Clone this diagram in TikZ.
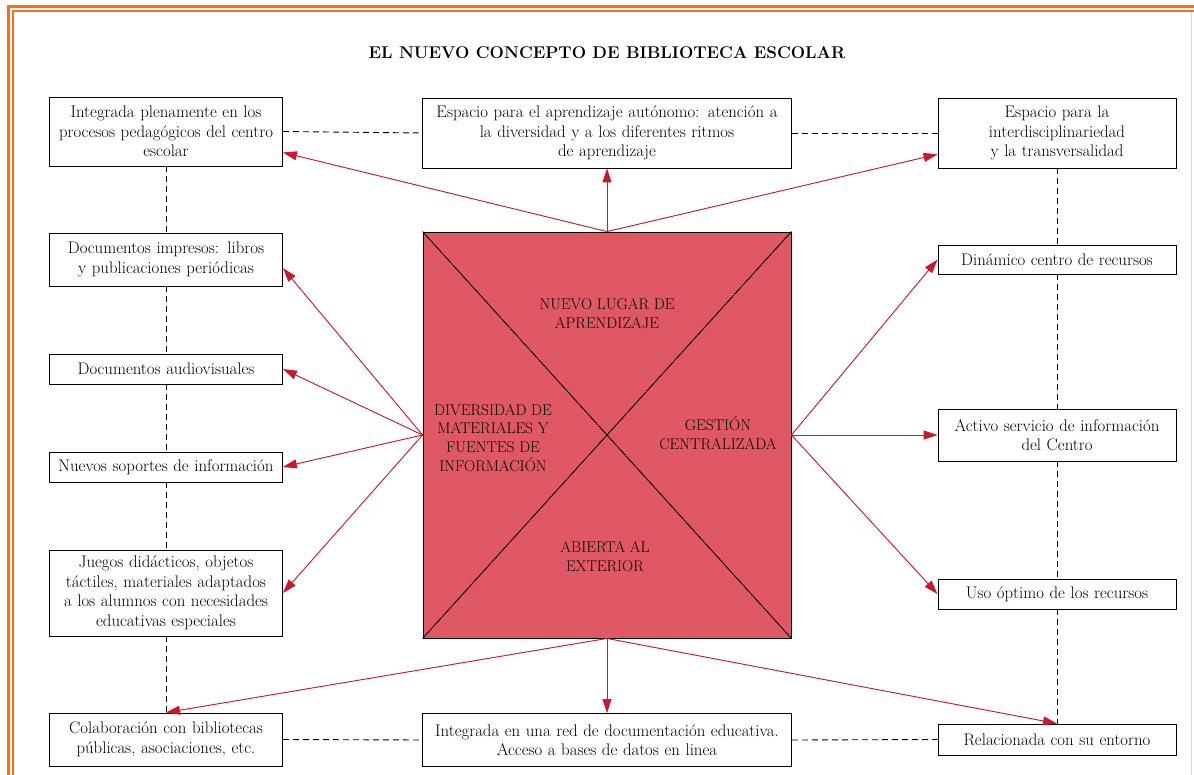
\documentclass[tikz,border=0pt]{standalone}
\usepackage{fontspec}
\usepackage{tikz}
\usetikzlibrary{arrows.meta,calc}

\definecolor{frameOrange}{RGB}{255,108,20}
\definecolor{squareRed}{RGB}{224,88,100}
\definecolor{arrowRed}{RGB}{204,24,44}
\newcommand\boxfont{\fontsize{16.8}{19.5}\selectfont}
\newcommand\capsfont{\fontsize{15.5}{18.8}\selectfont}
\newcommand\headfont{\fontsize{17}{20}\selectfont\bfseries}

\begin{document}
\begin{tikzpicture}
[x=1pt,y=-1pt,
  boxDecorate/.style={shape=rectangle,draw,line width=0.9pt,inner sep=2pt,
    align=center,font=\boxfont},
  squareDecorate/.style={shape=rectangle,draw,line width=0.9pt,fill=squareRed},
  labelDecorate/.style={align=center,font=\capsfont,inner sep=0pt},
  arrowDecorate/.style={-{Triangle[length=14pt,width=9pt]},draw=arrowRed,
    fill=arrowRed,line width=0.9pt},
  dashDecorate/.style={-,line width=0.9pt,dash pattern=on 6pt off 4pt}]
\useasboundingbox (0,0) rectangle (1194,775);
%% frame
\draw[frameOrange,line width=3pt] (8,775) -- (8,6.5) -- (1194,6.5);
\draw[frameOrange,line width=2pt] (13,775) -- (13,11.5) -- (1194,11.5);
\draw[black!15,line width=0.8pt] (1191,12.5) -- (1191,775);
%% title
\node (title) at (607,53) [font=\headfont] {EL NUEVO CONCEPTO DE BIBLIOTECA ESCOLAR};
%% central square
\node (sq) at (607,435) [squareDecorate,minimum width=368pt,minimum height=406pt] {};
\draw[line width=0.9pt] (sq.north west) -- (sq.south east);
\draw[line width=0.9pt] (sq.north east) -- (sq.south west);
\node (nuevo) at (607,314) [labelDecorate] {NUEVO LUGAR DE\\APRENDIZAJE};
\node (diversidad) at (493,438) [labelDecorate] {DIVERSIDAD DE\\MATERIALES Y\\FUENTES DE\\INFORMACIÓN};
\node (gestion) at (718,433) [labelDecorate] {GESTIÓN\\CENTRALIZADA};
\node (abierta) at (605,557) [labelDecorate] {ABIERTA AL\\EXTERIOR};
%% boxes
\foreach \nodename/\x/\y/\w/\h/\txt in {
  lA/166/131.5/229/69/{Integrada plenamente en los\\procesos pedagógicos del centro\\escolar},
  lB/166/259.5/229/53/{Documentos impresos: libros\\y publicaciones periódicas},
  lC/166/369/229/30/{Documentos audiovisuales},
  lD/166/467/229/30/{Nuevos soportes de información},
  lE/166/593/229/86/{Juegos didácticos, objetos\\táctiles, materiales adaptados\\a los alumnos con necesidades\\educativas especiales},
  lF/166/739.5/229/53/{Colaboración con bibliotecas\\públicas, asociaciones, etc.},
  cT/607/133/365/70/{Espacio para el aprendizaje autónomo: atención a\\la diversidad y a los diferentes ritmos\\de aprendizaje},
  cB/607/740/365/53/{Integrada en una red de documentación educativa.\\Acceso a bases de datos en linea},
  rA/1057/133/234/70/{Espacio para la\\interdisciplinariedad\\y la transversalidad},
  rB/1057/259.5/234/29/{Dinámico centro de recursos},
  rC/1057/435/234/52/{Activo servicio de información\\del Centro},
  rD/1057/594/234/30/{Uso óptimo de los recursos},
  rE/1057/739.5/234/31/{Relacionada con su entorno}} {
  \node (\nodename) at (\x,\y) [boxDecorate,text width=\w pt,minimum height=\h pt] {\txt};
}
%% arrow tips off the side centres
\coordinate (lAtip) at ($(lA.east)!0.6!(lA.south east)$);
\coordinate (rAtip) at ($(rA.west)!0.6!(rA.south west)$);
\coordinate (lBtip) at ($(lB.east)!0.32!(lB.south east)$);
%% dashed links
\path
\foreach \startnode/\endnode in {lA.south/lB.north, lB.south/lC.north, lC.south/lD.north,
  lD.south/lE.north, lE.south/lF.north, rA.south/rB.north, rB.south/rC.north,
  rC.south/rD.north, rD.south/rE.north, lA.east/cT.west, cT.east/rA.west,
  lF.east/cB.west, cB.east/rE.west} {
  (\startnode) edge[dashDecorate] (\endnode)
};
%% red arrows
\path
\foreach \startnode/\endnode in {sq.north/lAtip, sq.north/cT.south, sq.north/rAtip,
  sq.west/lBtip, sq.west/lC.east, sq.west/lD.east, sq.west/lE.east,
  sq.east/rB.west, sq.east/rC.west, sq.east/rD.west,
  sq.south/lF.north, sq.south/cB.north, sq.south/rE.north} {
  (\startnode) edge[arrowDecorate] (\endnode)
};
\end{tikzpicture}
\end{document}
